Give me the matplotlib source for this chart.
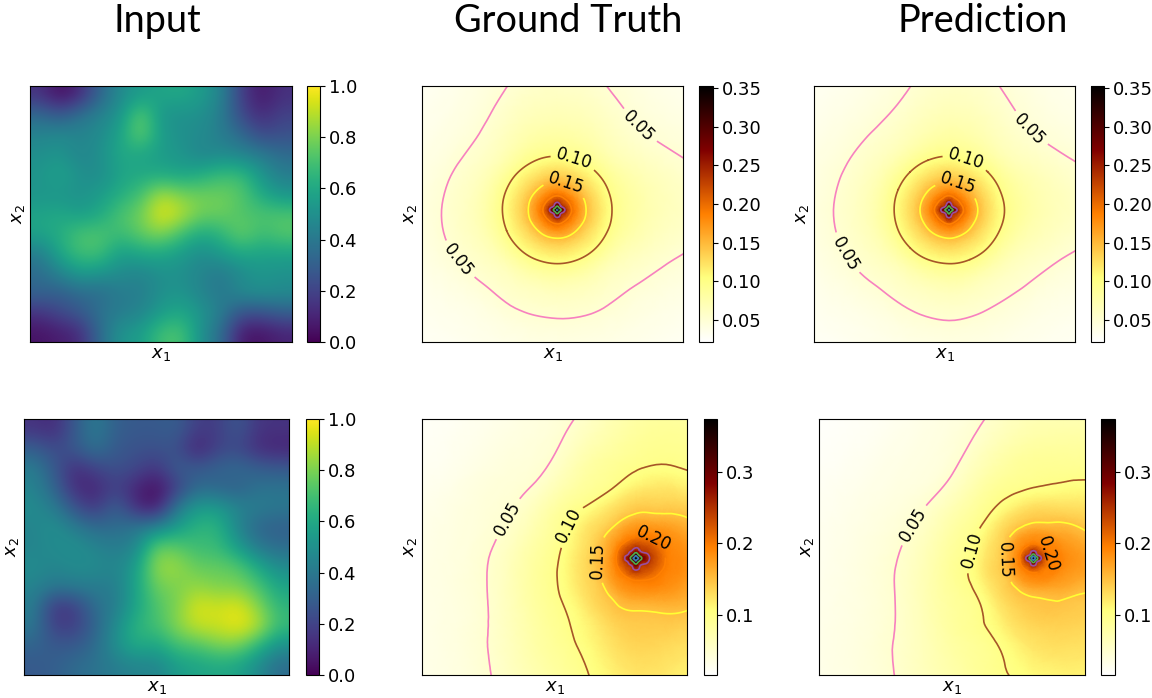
import numpy as np
import matplotlib
matplotlib.use("Agg")
import matplotlib.pyplot as plt
import matplotlib.tri as mtri

titles = ["Input", "Ground Truth", "Prediction"]
title_x = [157, 568, 983]

# input fields, rows run top to bottom
input_top = [
    [.15, .03, .12, .33, .48, .55, .58, .60, .55, .45, .18, .06, .14],
    [.35, .28, .38, .45, .52, .78, .52, .50, .50, .42, .22, .12, .20],
    [.45, .48, .45, .48, .58, .78, .55, .50, .48, .42, .35, .22, .25],
    [.50, .52, .45, .50, .60, .58, .55, .52, .45, .48, .45, .42, .35],
    [.52, .58, .50, .48, .58, .60, .60, .58, .62, .68, .68, .52, .42],
    [.52, .52, .50, .55, .62, .70, .88, .80, .78, .78, .74, .60, .52],
    [.58, .60, .55, .60, .72, .78, .97, .90, .78, .78, .72, .72, .72],
    [.58, .62, .72, .72, .68, .76, .82, .70, .60, .65, .78, .68, .74],
    [.42, .60, .70, .70, .55, .60, .60, .55, .48, .55, .60, .58, .58],
    [.35, .45, .55, .52, .48, .45, .50, .50, .45, .40, .48, .52, .50],
    [.32, .30, .35, .35, .42, .42, .50, .52, .45, .40, .48, .50, .48],
    [.15, .22, .28, .38, .42, .45, .55, .60, .52, .42, .25, .25, .30],
    [.05, .08, .12, .35, .52, .55, .70, .72, .50, .35, .06, .05, .10],
]
input_bottom = [
    [.15, .12, .28, .42, .30, .28, .28, .30, .18, .18, .28, .15, .15],
    [.30, .22, .28, .38, .28, .25, .25, .25, .08, .20, .22, .12, .10],
    [.42, .28, .12, .20, .25, .22, .15, .30, .28, .32, .35, .30, .28],
    [.45, .32, .12, .10, .20, .10, .03, .18, .35, .32, .30, .38, .38],
    [.48, .42, .25, .15, .32, .12, .05, .40, .55, .55, .45, .42, .40],
    [.45, .50, .42, .35, .35, .40, .45, .55, .65, .65, .45, .32, .30],
    [.45, .48, .50, .45, .42, .45, .78, .75, .68, .68, .55, .40, .35],
    [.48, .45, .48, .48, .45, .55, .85, .85, .76, .76, .74, .60, .48],
    [.45, .40, .42, .42, .42, .58, .78, .80, .84, .80, .80, .72, .58],
    [.42, .15, .18, .36, .42, .58, .72, .80, .95, .92, .96, .82, .65],
    [.40, .18, .18, .32, .48, .65, .70, .82, .92, .92, .98, .90, .68],
    [.32, .28, .28, .35, .50, .62, .58, .70, .72, .80, .80, .65, .50],
    [.28, .30, .35, .38, .42, .45, .45, .55, .58, .60, .58, .48, .35],
]

# pressure fields in 1/1000, one list per ray from the peak (16 rays, counter clockwise
# from east), each list holds the value at every distance in ring_dist
ring_dist = [.01, .02, .035, .055, .08, .115, .16, .21, .28, .36, .46, .58, .75, 1.1]

gt_top = [
    [318, 281, 235, 200, 175, 147, 122, 100, 83, 71, 62, 52, 42, 30],
    [312, 265, 228, 198, 174, 147, 121, 100, 81, 68, 56, 46, 36, 26],
    [305, 250, 220, 197, 173, 146, 121, 100, 76, 61, 49, 40, 32, 23],
    [312, 265, 228, 198, 174, 147, 121, 100, 80, 67, 55, 45, 35, 25],
    [318, 281, 235, 200, 175, 147, 122, 100, 82, 70, 60, 51, 41, 29],
    [312, 265, 228, 198, 174, 147, 121, 100, 80, 67, 55, 45, 35, 25],
    [305, 250, 220, 197, 173, 146, 121, 100, 74, 58, 46, 37, 29, 21],
    [312, 265, 228, 198, 174, 147, 121, 100, 74, 58, 46, 37, 29, 21],
    [318, 281, 235, 200, 175, 147, 122, 100, 75, 60, 48, 38, 30, 21],
    [312, 265, 228, 198, 174, 147, 121, 100, 74, 59, 47, 37, 30, 21],
    [305, 250, 220, 197, 173, 146, 121, 100, 72, 56, 43, 35, 28, 20],
    [312, 265, 228, 198, 174, 147, 121, 100, 73, 57, 45, 36, 29, 20],
    [318, 281, 235, 200, 175, 147, 122, 100, 74, 58, 46, 37, 29, 21],
    [312, 265, 228, 198, 174, 147, 121, 100, 74, 58, 46, 37, 29, 21],
    [305, 250, 220, 197, 173, 146, 121, 100, 73, 57, 46, 37, 29, 21],
    [312, 265, 228, 198, 174, 147, 121, 100, 79, 65, 53, 44, 35, 25],
]
pred_top = [
    [320, 285, 240, 201, 175, 147, 122, 101, 83, 71, 62, 52, 42, 30],
    [310, 263, 227, 197, 173, 146, 121, 100, 80, 67, 55, 45, 35, 25],
    [303, 248, 219, 196, 172, 146, 121, 100, 75, 60, 48, 39, 31, 22],
    [310, 263, 227, 197, 173, 146, 121, 100, 79, 66, 55, 45, 35, 25],
    [320, 285, 240, 201, 175, 147, 122, 100, 82, 70, 60, 51, 41, 29],
    [310, 263, 227, 197, 173, 146, 121, 100, 77, 63, 51, 42, 33, 23],
    [303, 248, 219, 196, 172, 146, 121, 100, 74, 58, 46, 37, 29, 21],
    [310, 263, 227, 197, 173, 146, 121, 100, 75, 59, 47, 38, 30, 21],
    [320, 285, 240, 201, 175, 147, 122, 100, 75, 60, 48, 39, 31, 22],
    [310, 263, 227, 197, 173, 146, 121, 100, 74, 59, 47, 37, 30, 21],
    [303, 248, 219, 196, 172, 146, 121, 100, 72, 56, 44, 35, 28, 20],
    [310, 263, 227, 197, 173, 146, 121, 100, 73, 57, 45, 36, 29, 20],
    [320, 285, 240, 201, 175, 147, 122, 100, 75, 59, 47, 38, 30, 21],
    [310, 263, 227, 197, 173, 146, 121, 100, 73, 57, 45, 36, 29, 20],
    [303, 248, 219, 196, 172, 146, 121, 100, 73, 57, 45, 36, 29, 20],
    [310, 263, 227, 197, 173, 146, 121, 100, 78, 64, 52, 43, 34, 24],
]
gt_bottom = [
    [350, 308, 277, 245, 223, 198, 189, 179, 164, 148, 128, 104, 75, 45],
    [340, 296, 265, 240, 220, 197, 185, 172, 153, 137, 117, 95, 70, 42],
    [333, 288, 248, 234, 215, 194, 178, 159, 138, 116, 96, 82, 66, 42],
    [340, 294, 250, 230, 205, 186, 164, 143, 127, 106, 93, 83, 68, 40],
    [350, 308, 259, 230, 200, 181, 157, 138, 115, 97, 87, 76, 60, 35],
    [340, 294, 249, 224, 197, 175, 148, 128, 100, 87, 71, 52, 42, 28],
    [333, 288, 248, 225, 195, 169, 143, 125, 100, 80, 55, 42, 32, 22],
    [340, 294, 249, 224, 194, 165, 141, 124, 101, 81, 57, 44, 33, 22],
    [350, 304, 263, 227, 194, 165, 142, 125, 103, 86, 66, 47, 36, 22],
    [340, 294, 249, 224, 196, 171, 145, 130, 109, 92, 74, 53, 38, 24],
    [333, 288, 248, 225, 199, 179, 153, 137, 117, 99, 86, 70, 50, 28],
    [340, 294, 250, 229, 202, 184, 162, 146, 131, 117, 102, 90, 74, 45],
    [350, 308, 270, 237, 206, 187, 167, 149, 141, 133, 123, 110, 93, 60],
    [340, 294, 253, 232, 209, 192, 174, 155, 143, 132, 119, 103, 88, 58],
    [333, 288, 249, 233, 215, 196, 184, 170, 151, 136, 117, 97, 82, 50],
    [340, 296, 265, 240, 220, 198, 188, 177, 161, 145, 124, 100, 84, 50],
]
pred_bottom = [
    [338, 283, 237, 202, 195, 189, 180, 171, 158, 141, 120, 98, 85, 58],
    [329, 267, 232, 202, 193, 184, 172, 158, 142, 127, 108, 93, 79, 50],
    [317, 249, 228, 200, 190, 177, 160, 144, 126, 109, 95, 84, 68, 36],
    [329, 267, 231, 199, 186, 168, 147, 131, 109, 95, 85, 72, 56, 34],
    [338, 283, 236, 199, 184, 163, 142, 124, 99, 90, 78, 64, 44, 28],
    [329, 267, 229, 198, 182, 159, 137, 116, 95, 81, 63, 46, 36, 24],
    [317, 248, 224, 196, 179, 155, 133, 111, 89, 70, 47, 37, 28, 19],
    [329, 267, 227, 195, 175, 147, 128, 108, 88, 71, 50, 38, 29, 19],
    [338, 282, 233, 195, 173, 146, 129, 110, 92, 76, 57, 43, 32, 20],
    [329, 267, 229, 197, 176, 149, 133, 115, 95, 82, 65, 48, 37, 22],
    [317, 249, 226, 198, 180, 154, 137, 121, 99, 90, 78, 64, 48, 28],
    [329, 267, 231, 200, 184, 162, 144, 133, 118, 100, 92, 81, 67, 38],
    [338, 283, 238, 202, 187, 167, 148, 142, 132, 121, 108, 96, 83, 57],
    [329, 267, 232, 203, 190, 174, 154, 146, 138, 129, 118, 104, 89, 59],
    [317, 249, 228, 201, 192, 181, 166, 150, 141, 130, 118, 103, 85, 50],
    [329, 267, 232, 202, 194, 186, 175, 164, 148, 134, 117, 98, 84, 50],
]

peak_top = 352
peak_bottom = 373
peak_pos_gt_top = (.518, .516)
peak_pos_pred_top = (.517, .516)
peak_pos_gt_bottom = (.807, .456)
peak_pos_pred_bottom = (.806, .456)

levels = [.05, .10, .15, .20, .25, .30, .35]
level_colors = ["#f781bf", "#a65628", "#ffff33", "#ff7f00", "#984ea3", "#4daf4a", "#377eb8"]

# where the contour labels sit
labels_gt_top = [(.84, .85), (.145, .324), (.582, .718), (.55, .615)]
labels_pred_top = [(.837, .84), (.129, .35), (.582, .718), (.55, .617)]
labels_gt_bottom = [(.322, .611), (.545, .587), (.658, .45), (.872, .529)]
labels_pred_bottom = [(.356, .585), (.573, .487), (.698, .45), (.873, .476)]

ticks_input = [0, .2, .4, .6, .8, 1]
ticks_top = [.05, .10, .15, .20, .25, .30, .35]
ticks_bottom = [.1, .2, .3]

W, H = 1152, 698
fig = plt.figure(figsize=(W / 100, H / 100), dpi=100)


def box(x0, x1, y0, y1):
    return [x0 / W, 1 - y1 / H, (x1 - x0) / W, (y1 - y0) / H]


def finish(ax, mesh, cax, ticks, fmt):
    ax.set_xticks([])
    ax.set_yticks([])
    ax.set_xlabel("$x_1$", fontsize=13, labelpad=2)
    ax.set_ylabel("$x_2$", fontsize=13, labelpad=2)
    cb = fig.colorbar(mesh, cax=cax)
    cb.set_ticks(ticks)
    cb.set_ticklabels([fmt % t for t in ticks])
    cb.ax.tick_params(labelsize=13, length=3.5, pad=3)


def input_panel(field, ax_box, cax_box):
    ax = fig.add_axes(box(*ax_box))
    im = ax.imshow(field, cmap="viridis", vmin=0, vmax=1, extent=[0, 1, 0, 1],
                   interpolation="bicubic", aspect="auto")
    finish(ax, im, fig.add_axes(box(*cax_box)), ticks_input, "%.1f")


def field_panel(rays, peak, pos, vmin, vmax, label_pos, ax_box, cax_box, ticks, fmt):
    ax = fig.add_axes(box(*ax_box))
    vals = np.array(rays) / 1000
    ang = np.deg2rad(np.arange(16) * 22.5)
    dist = np.array(ring_dist)
    x = np.r_[pos[0], (pos[0] + np.outer(np.cos(ang), dist)).ravel()]
    y = np.r_[pos[1], (pos[1] + np.outer(np.sin(ang), dist)).ravel()]
    z = np.r_[peak / 1000, vals.ravel()]
    # matplotlib's own cubic refiner, so the contours are not polygons
    fine, zfine = mtri.UniformTriRefiner(mtri.Triangulation(x, y)).refine_field(z, subdiv=3)
    mesh = ax.tripcolor(fine, zfine, cmap="afmhot_r", vmin=vmin, vmax=vmax, shading="gouraud")
    cs = ax.tricontour(fine, zfine, levels=levels, colors=level_colors, linewidths=1.2)
    # limits first, clabel cuts the gaps in screen coordinates
    ax.set_xlim(0, 1)
    ax.set_ylim(0, 1)
    ax.clabel(cs, levels[:4], fontsize=12, inline=True, manual=label_pos, colors="k")
    finish(ax, mesh, fig.add_axes(box(*cax_box)), ticks, fmt)


input_panel(input_top, (30, 292, 86, 342), (307, 320, 86, 342))
input_panel(input_bottom, (24, 289, 419, 675), (306, 319, 419, 675))

field_panel(gt_top, peak_top, peak_pos_gt_top, .0215, .3526, labels_gt_top,
            (422, 683, 86, 342), (699, 713, 86, 342), ticks_top, "%.2f")
field_panel(pred_top, peak_top, peak_pos_pred_top, .0215, .3526, labels_pred_top,
            (814, 1075, 86, 342), (1091, 1104, 86, 342), ticks_top, "%.2f")
field_panel(gt_bottom, peak_bottom, peak_pos_gt_bottom, .0163, .3735, labels_gt_bottom,
            (422, 687, 419, 675), (704, 717, 419, 675), ticks_bottom, "%.1f")
field_panel(pred_bottom, peak_bottom, peak_pos_pred_bottom, .0163, .3735, labels_pred_bottom,
            (819, 1085, 419, 675), (1101, 1115, 419, 675), ticks_bottom, "%.1f")

for t, x in zip(titles, title_x):
    fig.text(x / W, 1 - 21 / H, t, fontsize=27.3, family="Lato", ha="center", va="center")

fig.savefig("out.png", dpi=100)
